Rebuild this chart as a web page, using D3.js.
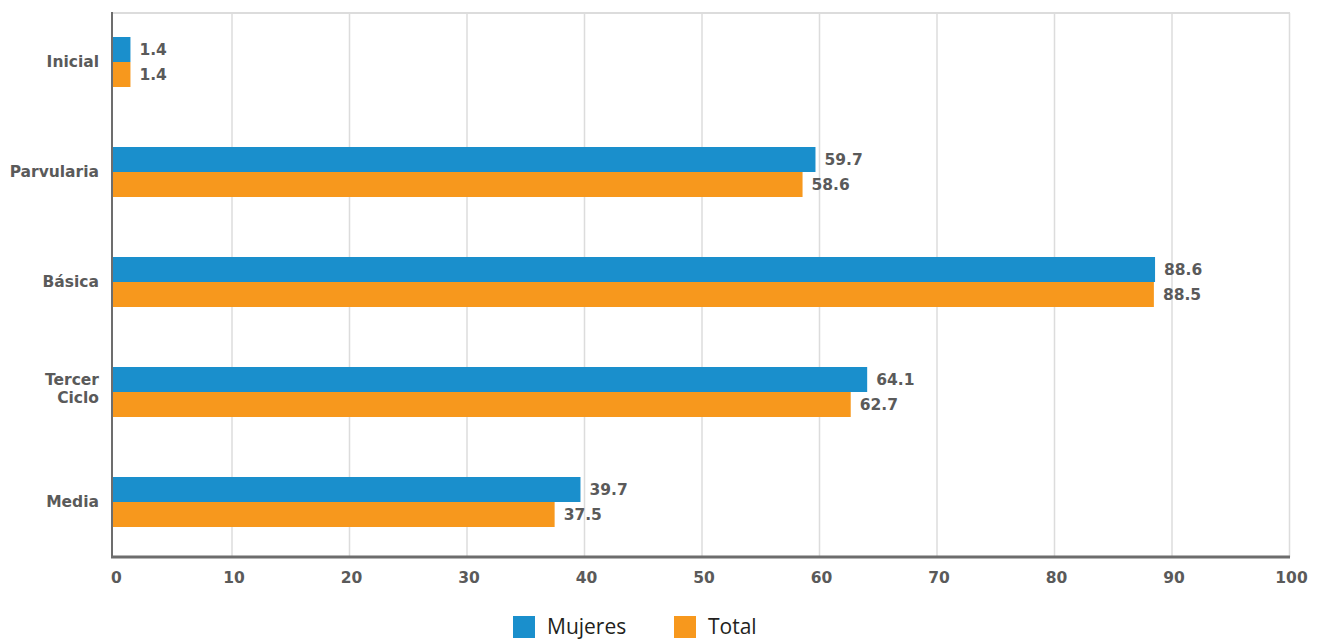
<!DOCTYPE html>
<html>
<head>
<meta charset="utf-8">
<script src="https://cdn.jsdelivr.net/npm/d3@7"></script>
<style>
  html, body { margin: 0; padding: 0; background: #fff; }
  svg { display: block; }
</style>
</head>
<body>
<svg id="chart" width="1318" height="641"></svg>
<script>
// Education levels and percentages for each series
const categories = ["Inicial", "Parvularia", "Básica", "Tercer Ciclo", "Media"];
const mujeres = [1.4, 59.7, 88.6, 64.1, 39.7];
const total = [1.4, 58.6, 88.5, 62.7, 37.5];
const seriesNames = ["Mujeres", "Total"];
const xTicks = [0, 10, 20, 30, 40, 50, 60, 70, 80, 90, 100];

(function () {
const colors = { Mujeres: "#1a8fcc", Total: "#f7981d" };
const labelFont = "DejaVu Sans, Verdana, sans-serif";
const labelColor = "#5a5a5a";

const svg = d3.select("#chart");
const plotLeft = 114, plotRight = 1289, plotTop = 13, plotBottom = 557;

const x = d3.scaleLinear().domain([0, 100]).range([plotLeft, plotRight]);
const y = d3.scaleBand().domain(categories).range([7, 557]).paddingInner(0).paddingOuter(0);
const barH = 25;

// Vertical gridlines
svg.append("g").selectAll("line")
  .data(xTicks.slice(1))
  .join("line")
  .attr("x1", d => x(d) + 0.5).attr("x2", d => x(d) + 0.5)
  .attr("y1", plotTop).attr("y2", plotBottom)
  .attr("stroke", "#dcdcdc").attr("stroke-width", 1.5);

// Top border
svg.append("line")
  .attr("x1", plotLeft - 2).attr("x2", plotRight + 1)
  .attr("y1", plotTop).attr("y2", plotTop)
  .attr("stroke", "#dcdcdc").attr("stroke-width", 2);

// Bars
const rows = categories.map((c, i) => ({ cat: c, values: [
  { name: "Mujeres", v: mujeres[i] },
  { name: "Total", v: total[i] }
]}));

const groups = svg.append("g").selectAll("g")
  .data(rows)
  .join("g")
  .attr("transform", d => `translate(0, ${y(d.cat) + y.bandwidth() / 2 - barH})`);

groups.selectAll("rect")
  .data(d => d.values)
  .join("rect")
  .attr("x", x(0) - 1)
  .attr("y", (d, i) => i * barH)
  .attr("width", d => x(d.v) - x(0) + 1)
  .attr("height", barH)
  .attr("fill", d => colors[d.name]);

groups.selectAll("text")
  .data(d => d.values)
  .join("text")
  .attr("x", d => x(d.v) + 9)
  .attr("y", (d, i) => i * barH + barH / 2 + 1)
  .attr("dominant-baseline", "middle")
  .attr("font-family", labelFont)
  .attr("font-weight", "bold")
  .attr("font-size", 15.5)
  .attr("fill", labelColor)
  .text(d => d.v.toFixed(1));

// Left axis line
svg.append("line")
  .attr("x1", 112).attr("x2", 112)
  .attr("y1", plotTop - 1).attr("y2", plotBottom + 1)
  .attr("stroke", "#6d6d6d").attr("stroke-width", 2);

// Bottom axis
const xAxis = d3.axisBottom(x).tickValues(xTicks).tickSize(0).tickPadding(15).tickFormat(d3.format("d"));
const gx = svg.append("g").attr("transform", `translate(0, ${plotBottom})`).call(xAxis);
gx.select(".domain").remove();
gx.selectAll("text")
  .attr("font-family", labelFont)
  .attr("font-weight", "bold")
  .attr("font-size", 15.5)
  .attr("fill", labelColor)
  .attr("dx", 2);
svg.append("line")
  .attr("x1", 111).attr("x2", plotRight + 1)
  .attr("y1", plotBottom).attr("y2", plotBottom)
  .attr("stroke", "#6d6d6d").attr("stroke-width", 3);

// Category labels (multi-word names wrap onto two lines)
const yAxis = svg.append("g");
categories.forEach(c => {
  const words = c.split(" ");
  const cy = y(c) + y.bandwidth() / 2 - (words.length > 1 ? 3 : 0);
  const lh = 18;
  const t = yAxis.append("text")
    .attr("text-anchor", "end")
    .attr("font-family", labelFont)
    .attr("font-weight", "bold")
    .attr("font-size", 15.5)
    .attr("fill", labelColor);
  words.forEach((w, i) => {
    t.append("tspan")
      .attr("x", 99)
      .attr("y", cy + (i - (words.length - 1) / 2) * lh)
      .attr("dy", "0.35em")
      .text(w);
  });
});

// Legend
const legend = svg.append("g");
const legendX = [513, 674];
seriesNames.forEach((s, i) => {
  legend.append("rect")
    .attr("x", legendX[i]).attr("y", 616)
    .attr("width", 22).attr("height", 22)
    .attr("fill", colors[s]);
  legend.append("text")
    .attr("x", legendX[i] + 34).attr("y", 628)
    .attr("dominant-baseline", "middle")
    .attr("font-family", "Open Sans, Noto Sans, sans-serif")
    .attr("font-size", 21)
    .attr("fill", "#231f20")
    .text(s);
});
})();
</script>
</body>
</html>
